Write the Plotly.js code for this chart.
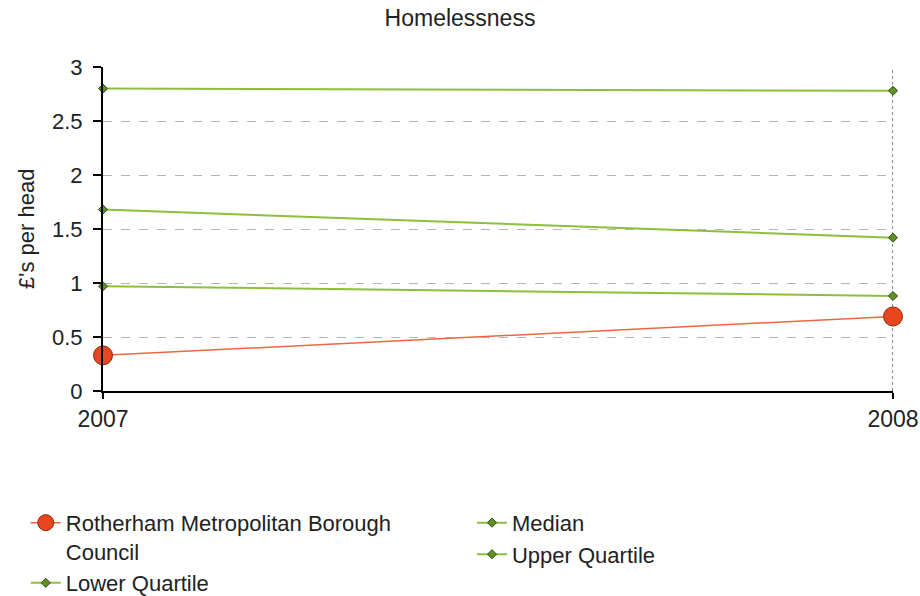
<!DOCTYPE html>
<html>
<head>
<meta charset="utf-8">
<script src="https://cdn.plot.ly/plotly-3.0.1.min.js"></script>
<style>html,body{margin:0;padding:0;background:#fff;}#chart{width:920px;height:596px;}</style>
</head>
<body>
<div id="chart"></div>
<script>
const years = [2007, 2008];
const rotherham = [0.33, 0.69];
const lowerQuartile = [0.97, 0.88];
const median = [1.68, 1.42];
const upperQuartile = [2.80, 2.78];
const seriesNames = ["Rotherham Metropolitan Borough<br>Council", "Lower Quartile", "Median", "Upper Quartile"];
const yTicks = [0, 0.5, 1, 1.5, 2, 2.5, 3];
const yTickText = ["0", "0.5", "1", "1.5", "2", "2.5", "3"];
const yTitle = "£'s per head";

const green = "#8cbf3c";
const greenMarker = {symbol: "diamond", size: 7, color: "#5f8f26", line: {color: "#2f4f10", width: 1}};

function greenTrace(y, name, legend, rank) {
  return {
    x: years, y: y, name: name, type: "scatter", mode: "lines+markers",
    line: {color: green, width: 2}, marker: greenMarker, cliponaxis: false,
    legend: legend, legendrank: rank
  };
}

const data = [
  greenTrace(lowerQuartile, seriesNames[1], "legend", 2),
  greenTrace(median, seriesNames[2], "legend2", 1),
  greenTrace(upperQuartile, seriesNames[3], "legend2", 2),
  {
    x: years, y: rotherham, name: seriesNames[0], type: "scatter", mode: "lines+markers",
    line: {color: "#e9683f", width: 1.5}, cliponaxis: false,
    marker: {symbol: "circle", size: 19, color: "#e8461f", line: {color: "#8a2a10", width: 1}},
    legend: "legend", legendrank: 1
  }
];

const legendFont = {family: "Liberation Sans, Arial, sans-serif", size: 22, color: "#222"};

const layout = {
  width: 920, height: 596,
  paper_bgcolor: "#ffffff", plot_bgcolor: "#ffffff",
  margin: {l: 103, r: 27, t: 67, b: 205, autoexpand: false},
  font: {family: "Liberation Sans, Arial, sans-serif", color: "#222"},
  title: {text: "Homelessness", x: 0.5, xref: "container", xanchor: "center",
          y: 0.97, yref: "container", yanchor: "middle",
          font: {size: 23, color: "#222"}},
  xaxis: {
    range: [2007, 2008], tickvals: years, ticktext: years.map(String),
    showline: true, linecolor: "#000", linewidth: 2,
    ticks: "outside", ticklen: 6, tickcolor: "#000", tickwidth: 2,
    showgrid: false, zeroline: false, tickfont: {size: 23, color: "#222"}, fixedrange: true
  },
  yaxis: {
    range: [0, 3], tickvals: yTicks, ticktext: yTickText,
    showline: true, linecolor: "#000", linewidth: 2,
    ticks: "outside", ticklen: 8, tickcolor: "#000", tickwidth: 2,
    ticklabelstandoff: 6,
    showgrid: true, gridcolor: "#b5b5b5", gridwidth: 1, griddash: "dash",
    zeroline: false, tickfont: {size: 22, color: "#222"},
    fixedrange: true
  },
  shapes: [{
    type: "line", xref: "x", yref: "paper", x0: years[years.length - 1], x1: years[years.length - 1],
    y0: 0, y1: 1, layer: "below", line: {color: "#8a8a8a", width: 2, dash: "dot"}
  }],
  annotations: [{
    text: yTitle, xref: "paper", yref: "paper", x: -0.0975, y: 0.5,
    xanchor: "center", yanchor: "middle", textangle: -90, showarrow: false,
    font: {size: 22, color: "#222"}
  }],
  showlegend: true,
  legend: {
    xref: "container", yref: "container",
    x: 0.028, xanchor: "left", y: 0.158, yanchor: "top",
    orientation: "v", font: legendFont, valign: "top",
    bgcolor: "rgba(0,0,0,0)", itemsizing: "trace", tracegroupgap: 0
  },
  legend2: {
    xref: "container", yref: "container",
    x: 0.513, xanchor: "left", y: 0.158, yanchor: "top",
    orientation: "v", font: legendFont, valign: "top",
    bgcolor: "rgba(0,0,0,0)", itemsizing: "trace", tracegroupgap: 0
  }
};

Plotly.newPlot("chart", data, layout, {displayModeBar: false, staticPlot: true});
</script>
</body>
</html>
